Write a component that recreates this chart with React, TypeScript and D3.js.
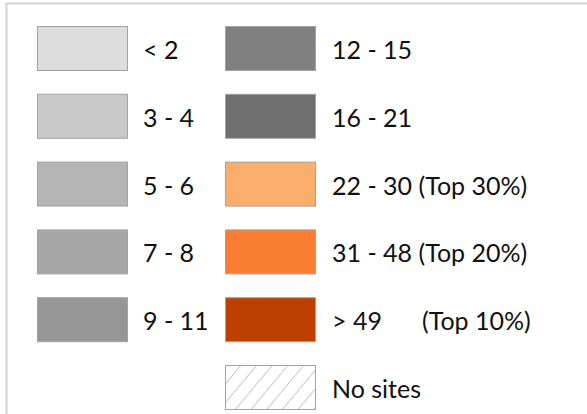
import * as d3 from 'd3';

// legend classes, left column then right column
const leftLabels = ['< 2', '3 - 4', '5 - 6', '7 - 8', '9 - 11'];
const leftColors = ['#dddddd', '#c9c9c9', '#b5b5b5', '#a6a6a6', '#969696'];
const rightLabels = ['12 - 15', '16 - 21', '22 - 30 (Top 30%)', '31 - 48 (Top 20%)', '> 49', 'No sites'];
const rightColors = ['#808080', '#6f6f6f', '#fbae6c', '#fa7d31', '#be3f02', 'hatch'];
const rightNotes = ['', '', '', '', '(Top 10%)', ''];

const W = 587;
const H = 414;

export default function App() {
  const y = d3.scaleLinear().domain([0, 5]).range([26, 365]);
  const swW = 90;
  const swH = 44;
  const font = 'Lato, "Open Sans", sans-serif';
  const fs = 25;

  return (
    <svg width={W} height={H} style={{ position: 'absolute', left: 0, top: 0, background: '#fff' }}>
      <defs>
        <pattern id="hatch" patternUnits="userSpaceOnUse" width="12" height="12" patternTransform="rotate(40)">
          <line x1="0" y1="0" x2="0" y2="12" stroke="#8a8a8a" strokeWidth="0.9" />
        </pattern>
      </defs>
      {/* frame, runs off the right and bottom edge */}
      <rect x={6.5} y={3.5} width={W + 10} height={H + 10} fill="#fff" stroke="#d4d4d4" strokeWidth={2} />

      {leftLabels.map((lab, i) => (
        <g key={lab} transform={`translate(37,${y(i)})`}>
          <rect x={0.5} y={0.5} width={swW} height={swH} fill={leftColors[i]} stroke="#a3a3a3" strokeWidth={1} />
          <text x={106} y={swH / 2 + 2} dy="0.36em" fontFamily={font} fontSize={fs} fill="#111">
            {lab}
          </text>
        </g>
      ))}

      {rightLabels.map((lab, i) => (
        <g key={lab} transform={`translate(225,${y(i)})`}>
          <rect
            x={0.5}
            y={0.5}
            width={swW}
            height={swH}
            fill={rightColors[i] === 'hatch' ? 'url(#hatch)' : rightColors[i]}
            stroke="#a3a3a3"
            strokeWidth={1}
          />
          <text x={107} y={swH / 2 + 2} dy="0.36em" fontFamily={font} fontSize={fs} fill="#111">
            {lab}
          </text>
          {rightNotes[i] && (
            <text x={197} y={swH / 2 + 2} dy="0.36em" fontFamily={font} fontSize={fs} fill="#111">
              {rightNotes[i]}
            </text>
          )}
        </g>
      ))}
    </svg>
  );
}
